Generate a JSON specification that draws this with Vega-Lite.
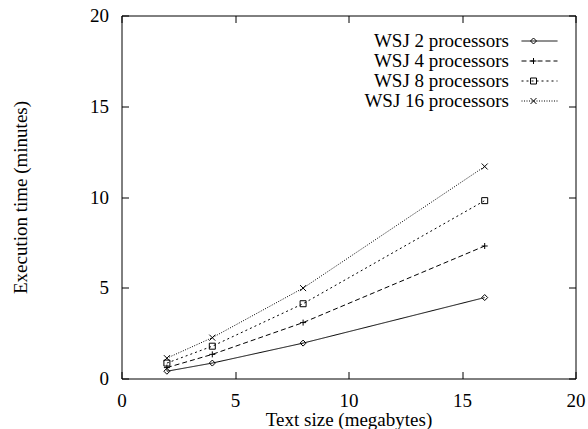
{
  "$schema": "https://vega.github.io/schema/vega-lite/v6.json",
  "width": 454,
  "height": 363,
  "autosize": {"type": "none"},
  "padding": {"left": 121.5, "top": 15.5, "right": 12.5, "bottom": 50.5},
  "background": "white",
  "config": {
    "font": "Liberation Serif",
    "view": {"stroke": "black", "strokeWidth": 1},
    "axis": {
      "grid": false,
      "domain": false,
      "tickColor": "black",
      "tickWidth": 1,
      "tickSize": -7,
      "labelFont": "Liberation Serif",
      "labelFontSize": 19,
      "labelColor": "black",
      "labelFlush": false,
      "labelOverlap": false,
      "titleFont": "Liberation Serif",
      "titleFontSize": 19,
      "titleFontWeight": "normal",
      "titleColor": "black"
    },
    "legend": {
      "labelFont": "Liberation Serif",
      "labelFontSize": 19,
      "labelColor": "black",
      "padding": 0
    }
  },
  "data": {
    "values": [
      {"series": "WSJ 2 processors", "procs": 2, "size": 2, "time": 0.4},
      {"series": "WSJ 2 processors", "procs": 2, "size": 4, "time": 0.85},
      {"series": "WSJ 2 processors", "procs": 2, "size": 8, "time": 1.95},
      {"series": "WSJ 2 processors", "procs": 2, "size": 16, "time": 4.46},
      {"series": "WSJ 4 processors", "procs": 4, "size": 2, "time": 0.6},
      {"series": "WSJ 4 processors", "procs": 4, "size": 4, "time": 1.33},
      {"series": "WSJ 4 processors", "procs": 4, "size": 8, "time": 3.08},
      {"series": "WSJ 4 processors", "procs": 4, "size": 16, "time": 7.3},
      {"series": "WSJ 8 processors", "procs": 8, "size": 2, "time": 0.85},
      {"series": "WSJ 8 processors", "procs": 8, "size": 4, "time": 1.78},
      {"series": "WSJ 8 processors", "procs": 8, "size": 8, "time": 4.12},
      {"series": "WSJ 8 processors", "procs": 8, "size": 16, "time": 9.8},
      {"series": "WSJ 16 processors", "procs": 16, "size": 2, "time": 1.12},
      {"series": "WSJ 16 processors", "procs": 16, "size": 4, "time": 2.25},
      {"series": "WSJ 16 processors", "procs": 16, "size": 8, "time": 4.98},
      {"series": "WSJ 16 processors", "procs": 16, "size": 16, "time": 11.68}
    ]
  },
  "layer": [
    {
      "mark": {"type": "line", "color": "black", "strokeWidth": 1},
      "encoding": {
        "x": {
          "field": "size", "type": "quantitative",
          "scale": {"domain": [0, 20], "nice": false, "zero": false},
          "axis": {
            "orient": "bottom",
            "values": [0, 5, 10, 15, 20],
            "labelPadding": 28.5,
            "labelBaseline": "middle",
            "title": "Text size (megabytes)",
            "titleY": 41,
            "titleBaseline": "middle"
          }
        },
        "y": {
          "field": "time", "type": "quantitative",
          "scale": {"domain": [0, 20], "nice": false, "zero": false},
          "axis": {
            "orient": "left",
            "values": [0, 5, 10, 15, 20],
            "labelPadding": 20,
            "title": "Execution time (minutes)",
            "titleX": -101,
            "titleY": 181.5,
            "titleBaseline": "middle",
            "titleAlign": "center"
          }
        },
        "strokeDash": {
          "field": "series", "type": "nominal",
          "scale": {
            "domain": ["WSJ 2 processors", "WSJ 4 processors", "WSJ 8 processors", "WSJ 16 processors"],
            "range": [[1, 0], [5, 3], [2, 3], [1, 1.5]]
          },
          "legend": {
            "orient": "none",
            "legendX": 408.5,
            "legendY": 16,
            "title": null,
            "symbolType": "M-3,0L3,0",
            "symbolSize": 144,
            "symbolStrokeColor": "black",
            "symbolStrokeWidth": 1,
            "labelAlign": "right",
            "labelOffset": -40,
            "rowPadding": 0
          }
        }
      }
    },
    {
      "mark": {"type": "point", "filled": false, "color": "black", "strokeWidth": 1, "size": 36, "opacity": 1},
      "encoding": {
        "x": {
          "field": "size", "type": "quantitative",
          "axis": {"orient": "top", "values": [0, 5, 10, 15, 20], "labels": false, "title": null}
        },
        "y": {
          "field": "time", "type": "quantitative",
          "axis": {"orient": "right", "values": [0, 5, 10, 15, 20], "labels": false, "title": null}
        },
        "shape": {
          "field": "series", "type": "nominal",
          "sort": {"field": "procs", "op": "min"},
          "scale": {
            "range": ["diamond", "M-1,0L1,0M0,-1L0,1", "square", "M-1,-1L1,1M-1,1L1,-1"]
          },
          "legend": {
            "orient": "none",
            "legendX": 402.5,
            "legendY": 16,
            "title": null,
            "symbolSize": 36,
            "symbolStrokeColor": "black",
            "symbolFillColor": "white",
            "symbolStrokeWidth": 1,
            "labelExpr": "''",
            "rowPadding": 0
          }
        }
      }
    }
  ],
  "resolve": {"axis": {"x": "independent", "y": "independent"}}
}
